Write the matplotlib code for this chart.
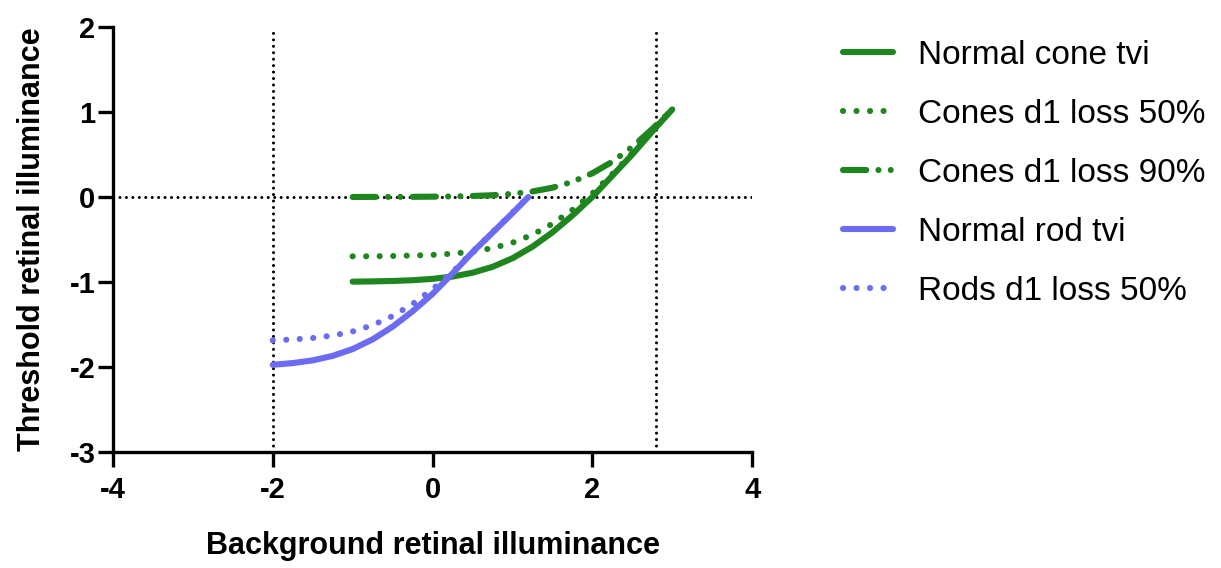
import matplotlib
matplotlib.use("Agg")
import matplotlib.pyplot as plt

plt.rcParams['font.family'] = ['Liberation Sans', 'DejaVu Sans']
plt.rcParams['axes.unicode_minus'] = False

# log background illuminance (x) vs log threshold (y), read at 0.25 steps
cone_x = [-1.0, -0.75, -0.5, -0.25, 0.0, 0.25, 0.5, 0.75, 1.0, 1.25, 1.5,
          1.75, 2.0, 2.25, 2.5, 2.75, 3.0]
cone_normal = [-0.996, -0.993, -0.988, -0.979, -0.963, -0.936, -0.891, -0.822,
               -0.721, -0.585, -0.416, -0.218, 0.0, 0.25, 0.50, 0.77, 1.03]
cone_loss50 = [-0.698, -0.697, -0.694, -0.689, -0.681, -0.667, -0.642, -0.602,
               -0.538, -0.444, -0.315, -0.152, 0.041, 0.27, 0.515, 0.78, 1.035]
cone_loss90 = [0.0, 0.001, 0.001, 0.002, 0.004, 0.007, 0.012, 0.021, 0.037,
               0.065, 0.109, 0.178, 0.279, 0.415, 0.59, 0.80, 1.03]

rod_x = [-2.0, -1.75, -1.5, -1.25, -1.0, -0.75, -0.5, -0.25, 0.0, 0.25, 0.5,
         0.75, 1.0, 1.2]
rod_normal = [-1.974, -1.954, -1.922, -1.869, -1.789, -1.675, -1.526, -1.345,
              -1.14, -0.90, -0.65, -0.42, -0.19, 0.0]
rod_loss50 = [-1.687, -1.676, -1.659, -1.63, -1.582, -1.508, -1.401, -1.259,
              -1.084, -0.882, -0.645, -0.415, -0.185, 0.005]

ref_x = [-2, 2.8]
ref_y = [0]

green = '#1f851f'
blue = '#6b6cf2'
lw = 4.4
dot = (0, (0.01, 2.2))
dashdot = (0, (3.8, 2.0, 0.01, 2.0, 0.01, 2.0))

fig = plt.figure(figsize=(12.21, 5.68), dpi=100)
ax = fig.add_axes([0.0925, 0.2042, 0.5235, 0.7483])

# dotted reference lines
for xv in ref_x:
    ax.axvline(xv, color='black', lw=2.2, linestyle=(0, (0.01, 2.1)),
               dash_capstyle='round', zorder=1)
for yv in ref_y:
    ax.axhline(yv, color='black', lw=2.2, linestyle=(0, (0.01, 2.1)),
               dash_capstyle='round', zorder=1)

ax.plot(cone_x, cone_normal, color=green, lw=lw, solid_capstyle='round',
        label='Normal cone tvi', zorder=3)
ax.plot(cone_x, cone_loss50, color=green, lw=lw, linestyle=dot,
        dash_capstyle='round', label='Cones d1 loss 50%', zorder=3)
ax.plot(cone_x, cone_loss90, color=green, lw=lw, linestyle=dashdot,
        dash_capstyle='round', label='Cones d1 loss 90%', zorder=3)
ax.plot(rod_x, rod_normal, color=blue, lw=lw, solid_capstyle='round',
        label='Normal rod tvi', zorder=4)
ax.plot(rod_x, rod_loss50, color=blue, lw=lw, linestyle=dot,
        dash_capstyle='round', label='Rods d1 loss 50%', zorder=4)

ax.set_xlim(-4, 4)
ax.set_ylim(-3, 2)
ax.set_xticks([-4, -2, 0, 2, 4])
ax.set_yticks([-3, -2, -1, 0, 1, 2])
for s in ['top', 'right']:
    ax.spines[s].set_visible(False)
for s in ['left', 'bottom']:
    ax.spines[s].set_linewidth(2.4)
ax.tick_params(direction='out', length=11, width=2.4, labelsize=21)
ax.tick_params(axis='y', pad=1.5)
ax.tick_params(axis='x', pad=6)
for t in ax.get_xticklabels() + ax.get_yticklabels():
    t.set_fontweight('bold')
ax.set_xlabel('Background retinal illuminance', fontsize=22,
              fontweight='bold', labelpad=20)
ax.set_ylabel('Threshold retinal illuminance', fontsize=22,
              fontweight='bold', labelpad=16)

fig.legend(loc='upper left', bbox_to_anchor=(0.6657, 0.983), frameon=False,
           fontsize=24, handlelength=1.5, labelspacing=0.84,
           handletextpad=0.75)

fig.savefig('out.png', dpi=100)
